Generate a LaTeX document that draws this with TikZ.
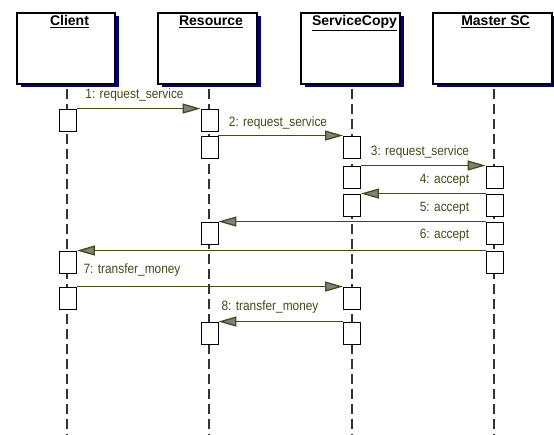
\documentclass[tikz,border=0pt]{standalone}
\usepackage{fontspec}
\setmainfont{Liberation Sans}
\newfontfamily\lblfont[FakeStretch=0.88]{Liberation Sans}
\usetikzlibrary{arrows.meta,shadows}
\definecolor{olv}{RGB}{72,72,24}
\definecolor{navyshadow}{RGB}{0,0,128}
\begin{document}
\begin{tikzpicture}[x=1pt,y=-1pt,
 hdr/.style={draw=black, line width=1.3pt, fill=white, drop shadow={shadow xshift=3.5pt, shadow yshift=-3.5pt, fill=navyshadow, opacity=1}, minimum height=71pt, inner sep=0pt},
 hdrtxt/.style={font=\fontsize{14}{16}\selectfont\bfseries, inner sep=0pt, anchor=north},
 lifeline/.style={draw=black!80, line width=1.1pt, dash pattern=on 10pt off 5pt, shorten <=4pt},
 act/.style={draw=black, line width=0.9pt, fill=white, minimum width=17pt, minimum height=22pt, inner sep=0pt},
 msg/.style={draw=olv, line width=1.3pt, -{Triangle[length=18pt,width=10pt,fill=gray]}},
 msglbl/.style={text=olv, font=\lblfont\fontsize{13.5}{15}\selectfont, inner sep=0pt}
]
\path[use as bounding box, fill=white] (0,0) rectangle (554,435);

% header boxes
\node[hdr, minimum width=98pt] (client) at (66,48.5) {};
\node[hdr, minimum width=99pt] (resource) at (207.5,48.5) {};
\node[hdr, minimum width=99pt] (scopy) at (350.5,48.5) {};
\node[hdr, minimum width=119pt] (master) at (492.5,48.5) {};
\node[hdrtxt] (clientT) at ([xshift=3.5pt,yshift=-3pt]client.north) {\underline{Client}};
\node[hdrtxt] (resourceT) at ([xshift=3.5pt,yshift=-3pt]resource.north) {\underline{Resource}};
\node[hdrtxt] (scopyT) at ([xshift=4pt,yshift=-3pt]scopy.north) {\underline{ServiceCopy}};
\node[hdrtxt] (masterT) at ([xshift=3pt,yshift=-3pt]master.north) {\underline{Master SC}};

% lifelines
\coordinate (cB) at (67,435);
\coordinate (rB) at (209,435);
\coordinate (sB) at (352,435);
\coordinate (mB) at (494,435);
\draw[lifeline] (client.south -| cB) -- (cB);
\draw[lifeline] (resource.south -| rB) -- (rB);
\draw[lifeline] (scopy.south -| sB) -- (sB);
\draw[lifeline] (master.south -| mB) -- (mB);

% activation boxes
\node[act] (c1) at (68,120) {};
\node[act] (r1) at (209.5,120) {};
\node[act] (r2) at (209.5,147) {};
\node[act] (s1) at (352,147) {};
\node[act] (s2) at (352,177) {};
\node[act] (m1) at (494.5,177) {};
\node[act] (s3) at (352,205) {};
\node[act] (m2) at (494.5,205) {};
\node[act] (r3) at (209.5,233) {};
\node[act] (m3) at (494.5,233) {};
\node[act] (c2) at (68,262) {};
\node[act] (m4) at (494.5,262) {};
\node[act] (c3) at (68,298) {};
\node[act] (s4) at (352,298) {};
\node[act] (s5) at (352,333) {};
\node[act] (r4) at (209.5,333) {};

% messages
\draw[msg] (c1.north east) -- (r1.north west);
\draw[msg] (r2.north east) -- (s1.north west);
\draw[msg] (s2.north east) -- (m1.north west);
\draw[msg] (m2.north west) -- (s3.north east);
\draw[msg] (m3.north west) -- (r3.north east);
\draw[msg] (m4.north west) -- (c2.north east);
\draw[msg] (c3.north east) -- (s4.north west);
\draw[msg] (s5.north west) -- (r4.north east);

% message labels
\node[msglbl] (l1) at (134.5,95) {1: request\_service};
\node[msglbl] (l2) at (278,123) {2: request\_service};
\node[msglbl] (l3) at (420,152) {3: request\_service};
\node[msglbl] (l4) at (444.5,180) {4: accept};
\node[msglbl] (l5) at (444.5,208) {5: accept};
\node[msglbl] (l6) at (444.5,235) {6: accept};
\node[msglbl] (l7) at (132,270) {7: transfer\_money};
\node[msglbl] (l8) at (270,307) {8: transfer\_money};
\end{tikzpicture}
\end{document}
